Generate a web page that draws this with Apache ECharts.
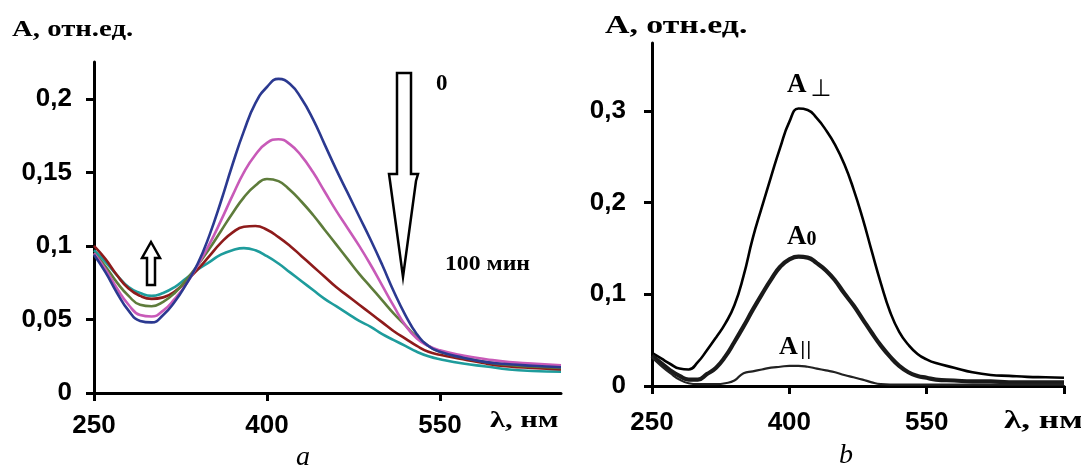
<!DOCTYPE html>
<html><head><meta charset="utf-8">
<script src="https://cdn.jsdelivr.net/npm/echarts@6/dist/echarts.min.js"></script>
<style>html,body{margin:0;padding:0;background:#fff}#c{width:1081px;height:475px}</style>
</head><body><div id="c"></div>
<script>
// ---- Panel a data ----
const lambdaA = [250,260,270,280,290,300,310,320,330,340,350,360,370,380,390,400,410,420,430,440,450,460,470,480,490,500,510,520,530,540,550,570,590,610,630,655];
const a0min   = [.094,.082,.068,.056,.049,.048,.053,.062,.074,.088,.107,.130,.155,.178,.197,.208,.2135,.210,.200,.186,.169,.152,.136,.120,.104,.087,.069,.053,.040,.032,.028,.024,.021,.0195,.0185,.0175];
const a25min  = [.095,.084,.071,.060,.053,.052,.056,.064,.074,.087,.101,.117,.134,.150,.162,.170,.1725,.169,.161,.150,.137,.124,.112,.100,.087,.073,.059,.046,.037,.032,.029,.0255,.023,.021,.020,.0188];
const a50min  = [.095,.086,.075,.066,.060,.059,.062,.068,.077,.087,.098,.110,.122,.133,.141,.1455,.144,.138,.130,.121,.111,.101,.091,.081,.072,.063,.054,.046,.038,.032,.028,.024,.021,.019,.018,.017];
const a75min  = [.100,.091,.080,.071,.066,.064,.065,.069,.076,.084,.093,.102,.109,.113,.1135,.111,.106,.100,.093,.086,.079,.072,.066,.060,.054,.048,.042,.037,.032,.028,.026,.023,.020,.018,.017,.016];
const a100min = [.097,.089,.080,.072,.068,.066,.068,.072,.078,.084,.089,.094,.097,.0985,.097,.093,.088,.082,.076,.070,.064,.059,.054,.049,.045,.040,.036,.032,.028,.025,.023,.020,.018,.016,.015,.0145];
const colorsA = ['#2B3990','#C85AB8','#5E7C3B','#8E1B1B','#1E9C9C'];
const xTicksA = [250,400,550];
const yTicksA = [0,0.05,0.1,0.15,0.2];

// ---- Panel b data ----
const lambdaB = [250,260,270,280,290,300,310,320,330,340,350,360,370,380,390,400,410,420,430,440,450,460,470,480,490,500,510,520,530,540,550,560,580,600,620,640,660,680,700];
const aPerp = [.036,.030,.024,.019,.018,.026,.039,.053,.068,.088,.120,.161,.195,.228,.260,.288,.3025,.301,.292,.279,.263,.242,.215,.183,.147,.112,.081,.059,.045,.035,.029,.025,.020,.015,.012,.011,.010,.0095,.009];
const aZero = [.033,.025,.017,.011,.007,.007,.013,.020,.032,.048,.065,.083,.100,.116,.130,.138,.141,.140,.134,.126,.115,.101,.088,.073,.058,.044,.032,.022,.015,.011,.009,.007,.006,.005,.005,.004,.004,.004,.004];
const aPar  = [.031,.022,.014,.007,.003,.002,.002,.002,.003,.006,.014,.016,.018,.020,.021,.022,.022,.021,.019,.017,.015,.012,.0095,.007,.004,.002,.0015,.0015,.0015,.0015,.0015,.0015,.0015,.0015,.0015,.0015,.0015,.0015,.0015];
const xTicksB = [250,400,550,700];
const xLabelsB = [250,400,550];
const yTicksB = [0,0.1,0.2,0.3];

const pairs = (xs, ys) => xs.map((x, i) => [x, ys[i]]);
const fmt = v => String(v).replace('.', ',');
const lblFont = {color:'#000', fontFamily:'Liberation Sans', fontWeight:'bold', fontSize:26};

function xAx(gi, min, max, ticks, labels, margin) {
  return {type:'value', gridIndex:gi, min, max, interval:150,
    axisLine:{show:true, lineStyle:{color:'#000', width:3}},
    axisTick:{show:true, length:8, inside:false, lineStyle:{color:'#000', width:3}, customValues:ticks},
    axisLabel:Object.assign({margin, formatter:fmt, customValues:labels}, lblFont),
    splitLine:{show:false}};
}
function yAx(gi, max, ticks, margin) {
  return {type:'value', gridIndex:gi, min:0, max,
    axisLine:{show:true, lineStyle:{color:'#000', width:3}},
    axisTick:{show:true, length:8, inside:false, lineStyle:{color:'#000', width:3}, customValues:ticks},
    axisLabel:Object.assign({margin, formatter:fmt, customValues:ticks}, lblFont),
    splitLine:{show:false}};
}
const seriesA = [a0min,a25min,a50min,a75min,a100min].map((d, i) => ({
  type:'line', xAxisIndex:0, yAxisIndex:0, data:pairs(lambdaA, d), smooth:0.5,
  showSymbol:false, lineStyle:{color:colorsA[i], width:2.6}, z:10-i}));
const seriesB = [
  {d:aPerp, w:2.6, c:'#000'}, {d:aZero, w:4.2, c:'#1a1a1a'}, {d:aPar, w:2.2, c:'#222'}
].map(s => ({type:'line', xAxisIndex:1, yAxisIndex:1, data:pairs(lambdaB, s.d), smooth:0.5,
  showSymbol:false, lineStyle:{color:s.c, width:s.w}}));

const serif = 'Liberation Serif';
const T = (x, y, text, size, sx) => ({type:'text', x, y, scaleX:sx||1, z:100,
  style:{text, fill:'#000', font:'bold '+size+'px "'+serif+'"', align:'left', verticalAlign:'top'}});

const chart = echarts.init(document.getElementById('c'), null, {renderer:'canvas'});
chart.setOption({
  animation:false,
  backgroundColor:'#fff',
  grid:[{left:94, top:62, width:467, height:331}, {left:652, top:43, width:412, height:343}],
  xAxis:[xAx(0,250,655,xTicksA,xTicksA,20), xAx(1,250,700,xTicksB,xLabelsB,24)],
  yAxis:[yAx(0,0.225,yTicksA,22), yAx(1,0.374,yTicksB,26)],
  series:seriesA.concat(seriesB),
  graphic:[
    T(12, 19, 'А, отн.ед.', 23, 1.25),
    T(605, 13, 'А, отн.ед.', 26, 1.3),
    T(490, 409, 'λ, нм', 24, 1.27),
    T(1004, 408, 'λ, нм', 26, 1.35),
    T(436, 73, '0', 23),
    T(445, 254, '100 мин', 21, 1.13),
    {type:'text', left:296, top:444, style:{text:'a', fill:'#000', font:'italic 28px "'+serif+'"'}},
    {type:'text', left:839, top:442, style:{text:'b', fill:'#000', font:'italic 28px "'+serif+'"'}},
    {type:'text', left:787, top:72, z:100, style:{rich:{
      a:{font:'bold 27px "'+serif+'"', fill:'#000'}, s:{font:'24px "DejaVu Sans"', fill:'#000', padding:[8,0,0,4]}},
      text:'{a|А}{s|⊥}'}},
    {type:'text', left:787, top:224, z:100, style:{rich:{
      a:{font:'bold 27px "'+serif+'"', fill:'#000'}, s:{font:'bold 20px "'+serif+'"', fill:'#000', padding:[4,0,0,0]}},
      text:'{a|А}{s|0}'}},
    {type:'text', left:779, top:334, z:100, style:{rich:{
      a:{font:'bold 26px "'+serif+'"', fill:'#000'}, s:{font:'18px "DejaVu Sans"', fill:'#000', padding:[6,0,0,2]}},
      text:'{a|А}{s|||}'}},
    {type:'polygon', z:100, shape:{points:[[151,242],[160,258],[155,258],[155,285],[147,285],[147,258],[142,258]]},
      style:{fill:'#fff', stroke:'#000', lineWidth:2.5}},
    {type:'polygon', z:100, shape:{points:[[397,73],[411,73],[411,174],[418,174],[416,181],[403,277],[390,181],[389,174],[397,174]]},
      style:{fill:'#fff', stroke:'#000', lineWidth:2.5}}
  ]
});
</script></body></html>
